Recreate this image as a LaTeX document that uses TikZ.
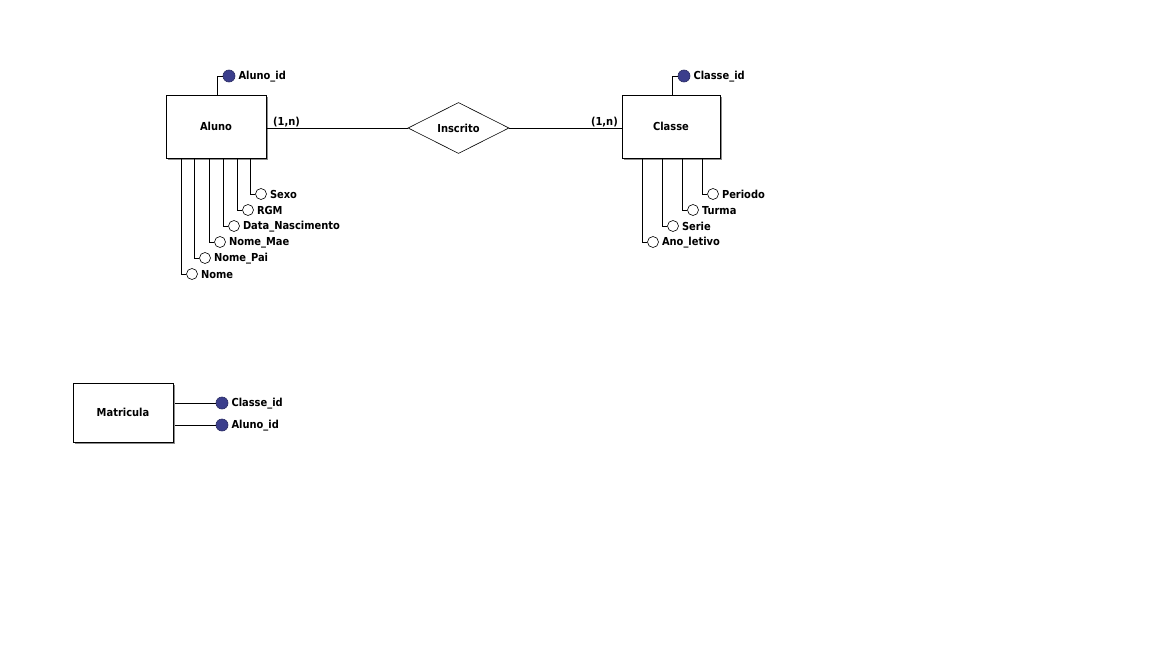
\documentclass[tikz,border=0pt]{standalone}
\usepackage{fontspec}
\setmainfont{DejaVu Sans Condensed}
\usetikzlibrary{shapes.geometric,shadows}
\definecolor{keyblue}{HTML}{3B3E8C}
\tikzset{
  lbl/.style={font=\bfseries\fontsize{11}{13}\selectfont},
  entity/.style={draw, fill=white, line width=0.9pt, minimum width=100pt, minimum height=63pt,
    inner sep=0pt, lbl,
    drop shadow={shadow xshift=2pt, shadow yshift=-2pt, fill=black!45, opacity=1}},
  rel/.style={draw, fill=white, diamond, line width=0.6pt, minimum width=101pt, minimum height=51pt,
    inner sep=0pt, aspect=2, lbl},
  attr/.style={draw, circle, fill=white, line width=0.6pt, minimum size=11pt, inner sep=0pt,
    label={[lbl, inner sep=0pt, xshift=3pt, yshift=-0.5pt]right:#1}},
  keyattr/.style={draw=keyblue!70!black, circle, fill=keyblue, line width=0.6pt, minimum size=12pt, inner sep=0pt,
    label={[lbl, inner sep=0pt, xshift=3pt, yshift=-0.5pt]right:#1}},
  conn/.style={line width=0.8pt},
  card/.style={lbl, inner sep=0pt},
}
\begin{document}
\begin{tikzpicture}[x=1pt,y=-1pt]
\useasboundingbox[fill=white] (0,0) rectangle (1152,648);

% entities
\node[entity] (aluno) at (216,126.5) {Aluno};
\node[entity, minimum width=98pt] (classe) at (671,126.5) {Classe};
\node[entity, minimum height=59pt] (matricula) at (123,412.5) {Matricula};

% relationship
\node[rel] (inscrito) at (458.5,128) {Inscrito};
\draw[conn] (aluno.east |- inscrito.west) -- (inscrito.west);
\draw[conn] (inscrito.east) -- (classe.west |- inscrito.east);
\node[card, anchor=west] (c1) at (273,122) {(1,n)};
\node[card, anchor=east] (c2) at (618,122) {(1,n)};

% Aluno key
\node[keyattr={Aluno\_id}] (alunoid) at (229,76) {};
\draw[conn] (217,95) |- (alunoid);

% Aluno attributes
\node[attr={Sexo}] (sexo) at (261,194) {};
\node[attr={RGM}] (rgm) at (248,210) {};
\node[attr={Data\_Nascimento}] (dnasc) at (234,226) {};
\node[attr={Nome\_Mae}] (nmae) at (220,242) {};
\node[attr={Nome\_Pai}] (npai) at (205,258) {};
\node[attr={Nome}] (nome) at (192,274) {};
\draw[conn] (250,158) |- (sexo);
\draw[conn] (237,158) |- (rgm);
\draw[conn] (223,158) |- (dnasc);
\draw[conn] (209,158) |- (nmae);
\draw[conn] (194,158) |- (npai);
\draw[conn] (181,158) |- (nome);

% Classe key
\node[keyattr={Classe\_id}] (classeid) at (684,76) {};
\draw[conn] (672,95) |- (classeid);

% Classe attributes
\node[attr={Periodo}] (periodo) at (713,194) {};
\node[attr={Turma}] (turma) at (693,210) {};
\node[attr={Serie}] (serie) at (673,226) {};
\node[attr={Ano\_letivo}] (ano) at (653,242) {};
\draw[conn] (702,158) |- (periodo);
\draw[conn] (682,158) |- (turma);
\draw[conn] (662,158) |- (serie);
\draw[conn] (642,158) |- (ano);

% Matricula keys
\node[keyattr={Classe\_id}] (mclasse) at (222,403) {};
\node[keyattr={Aluno\_id}] (maluno) at (222,425) {};
\draw[conn] (matricula.east |- mclasse) ++(2,0) -- (mclasse);
\draw[conn] (matricula.east |- maluno) ++(2,0) -- (maluno);
\end{tikzpicture}
\end{document}
